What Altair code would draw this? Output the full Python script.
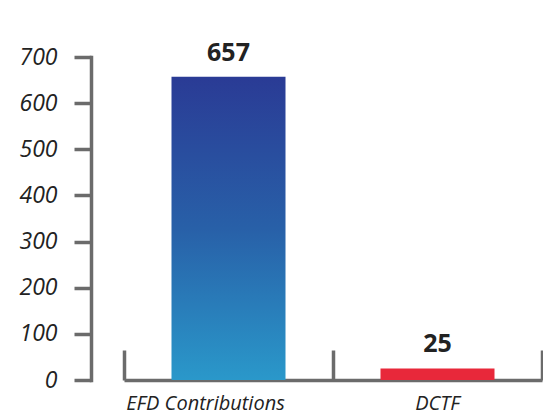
import altair as alt
import pandas as pd

# Chart values
categories = ["EFD Contributions", "DCTF"]
values = [657, 25]
y_ticks = [0, 100, 200, 300, 400, 500, 600, 700]

df = pd.DataFrame({"category": categories, "value": values})

FONT = "Open Sans"
AXIS_GREY = "#6b6b6b"
TEXT = "#222222"

x_scale = alt.Scale(domain=categories, paddingInner=0, paddingOuter=0)
y_scale = alt.Scale(domain=[0, 700], nice=False)

y_axis = alt.Axis(
    values=y_ticks, grid=False, offset=33, title=None,
    domainColor=AXIS_GREY, domainWidth=3.5, domainCap="square",
    tickColor=AXIS_GREY, tickWidth=3.5, tickSize=17,
    labelFont=FONT, labelFontSize=23, labelFontStyle="italic",
    labelColor=TEXT, labelPadding=17,
)

# bottom axis: category labels only
label_axis = alt.Axis(
    orient="bottom", title=None, domain=False, ticks=False,
    labelFont=FONT, labelFontSize=20, labelFontStyle="italic",
    labelColor=TEXT, labelPadding=13, labelAngle=0,
    labelOffset={"condition": {"test": "datum.value == 'EFD Contributions'", "value": -23}, "value": 0},
)

# baseline with upward ticks at band edges
edge_axis = alt.Axis(
    orient="top", offset=-323, title=None, labels=False,
    tickBand="extent", tickSize=30, tickWidth=3.5, tickColor=AXIS_GREY,
    domainColor=AXIS_GREY, domainWidth=3.5,
)

blue_gradient = alt.Gradient(
    gradient="linear",
    stops=[
        alt.GradientStop(color="#2a3b95", offset=0),
        alt.GradientStop(color="#2860a8", offset=0.5),
        alt.GradientStop(color="#2a98ca", offset=1),
    ],
    x1=0, x2=0, y1=0, y2=1,
)

base = alt.Chart(df)
y_enc = alt.Y("value:Q", scale=y_scale, axis=y_axis)

edge = base.mark_bar(size=114, opacity=0).encode(
    x=alt.X("category:N", scale=x_scale, axis=edge_axis, sort=categories),
    y=y_enc,
)

efd = base.transform_filter(alt.datum.category == "EFD Contributions").mark_bar(
    size=114, color=blue_gradient
).encode(
    x=alt.X("category:N", scale=x_scale, axis=label_axis, sort=categories),
    y=y_enc,
)

dctf = base.transform_filter(alt.datum.category == "DCTF").mark_bar(
    size=114, color="#e8283a"
).encode(
    x=alt.X("category:N", scale=x_scale, axis=None, sort=categories),
    y=y_enc,
)

labels = base.mark_text(
    font=FONT, fontSize=25, fontWeight="bold", color=TEXT,
    baseline="bottom", dy=-11,
).encode(
    x=alt.X("category:N", scale=x_scale, axis=None, sort=categories),
    y=y_enc,
    text="value:Q",
)

chart = (
    alt.layer(edge, efd, dctf, labels)
    .resolve_axis(x="independent")
    .properties(
        width=418, height=323,
        autosize=alt.AutoSizeParams(type="none"),
        padding={"left": 124, "top": 57, "right": 1, "bottom": 39},
        background="white",
    )
    .configure_view(stroke=None)
)

chart.save("out.html", embed_options={"renderer": "svg", "actions": False})
